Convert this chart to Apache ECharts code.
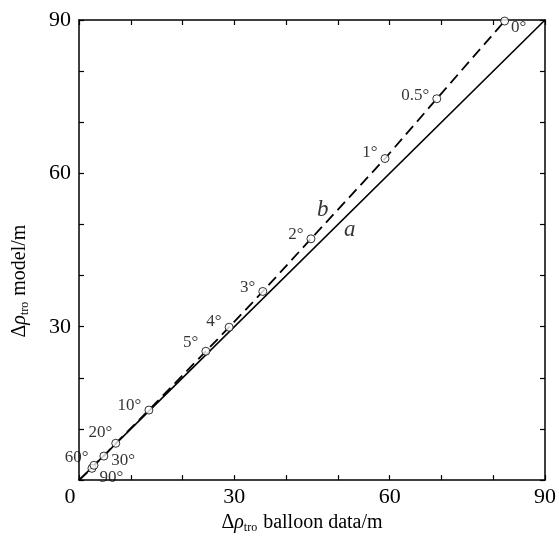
<!DOCTYPE html>
<html>
<head>
<meta charset="utf-8">
<script src="https://cdn.jsdelivr.net/npm/echarts@6/dist/echarts.min.js"></script>
<style>
html, body { margin: 0; padding: 0; background: #fff; }
#chart { width: 559px; height: 539px; }
</style>
</head>
<body>
<div id="chart"></div>
<script>
// elevation angles and the two delta-rho values (m)
var angles = ['90°', '60°', '30°', '20°', '10°', '5°', '4°', '3°', '2°', '1°', '0.5°', '0°'];
var balloon = [2.5, 2.9, 4.8, 7.1, 13.5, 24.5, 29.0, 35.5, 44.8, 59.1, 69.1, 82.2];
var model = [2.3, 2.9, 4.7, 7.2, 13.7, 25.2, 29.9, 36.9, 47.2, 62.9, 74.6, 89.8];
var lineA = [[0, 0], [90, 90]];
var curveNames = [['a', 52.3, 49.0], ['b', 47.1, 52.9]];
var ticks = [0, 30, 60, 90];

var chart = echarts.init(document.getElementById('chart'));
var serif = 'Liberation Serif';
var ink = '#000';

// where each angle label sits around its circle
var labelPos = {
	'90°': ['right', [0, 9]],
	'60°': ['left', [2, -8]],
	'30°': ['right', [0, 4]],
	'20°': ['left', [4, -11]],
	'10°': ['left', [0, -5]],
	'5°': ['left', [0, -9]],
	'4°': ['left', [0, -6]],
	'3°': ['left', [0, -4]],
	'2°': ['left', [0, -4]],
	'1°': ['left', [0, -6]],
	'0.5°': ['left', [0, -3]],
	'0°': ['right', [-1, 7]]
};

var pts = balloon.map(function(x, i) {
	var p = labelPos[angles[i]];
	return {
		value: [x, model[i]],
		label: { show: true, formatter: angles[i], position: p[0], offset: p[1] }
	};
});
var lineB = [[0, 0]].concat(balloon.map(function(x, i) { return [x, model[i]]; }));

function axisLine() {
	return { onZero: false, lineStyle: { color: ink, width: 1.5 } };
}
function axisTick() {
	return { show: true, inside: true, length: 5, lineStyle: { color: ink, width: 1.2 } };
}
var richName = {
	t: { fontFamily: serif, fontSize: 20, color: ink },
	r: { fontFamily: serif, fontSize: 20, fontStyle: 'italic', color: ink },
	s: { fontFamily: serif, fontSize: 12, color: ink, padding: [10, 1, 0, 0] }
};

function tickLabel(v, hideZero) {
	if (v === 0) return hideZero ? '' : '{z|0}';
	return ticks.indexOf(v) >= 0 ? String(v) : '';
}

var option = {
	backgroundColor: '#fff',
	animation: false,
	grid: { left: 79, right: 14, top: 20, bottom: 58 },
	xAxis: [{
		type: 'value', position: 'bottom', min: 0, max: 90, interval: 10,
		name: '{t|Δ}{r|ρ}{s|tro}{t| balloon data/m}',
		nameLocation: 'middle', nameGap: 26,
		nameTextStyle: { rich: richName, padding: [0, 20, 0, 0] },
		axisLine: axisLine(), axisTick: axisTick(), splitLine: { show: false },
		axisLabel: {
			margin: 6, fontFamily: serif, fontSize: 22, color: ink,
			formatter: function(v) { return tickLabel(v, false); },
			rich: { z: { fontFamily: serif, fontSize: 22, color: ink, padding: [0, 18, 0, 0] } }
		}
	}, {
		type: 'value', position: 'top', min: 0, max: 90, interval: 10,
		axisLine: axisLine(), axisTick: axisTick(), splitLine: { show: false },
		axisLabel: { show: false }
	}],
	yAxis: [{
		type: 'value', position: 'left', min: 0, max: 90, interval: 10,
		name: '{t|Δ}{r|ρ}{s|tro}{t| model/m}',
		nameLocation: 'middle', nameGap: 48,
		nameTextStyle: { rich: richName, padding: [0, 62, 0, 0] },
		axisLine: axisLine(), axisTick: axisTick(), splitLine: { show: false },
		axisLabel: {
			margin: 8, fontFamily: serif, fontSize: 22, color: ink,
			formatter: function(v) { return tickLabel(v, true); }
		}
	}, {
		type: 'value', position: 'right', min: 0, max: 90, interval: 10,
		axisLine: axisLine(), axisTick: axisTick(), splitLine: { show: false },
		axisLabel: { show: false }
	}],
	series: [{
		name: 'a', type: 'line', data: lineA, symbol: 'none',
		lineStyle: { color: ink, width: 1.6 }, z: 2
	}, {
		name: 'b', type: 'line', data: lineB, symbol: 'none',
		lineStyle: { color: ink, width: 1.8, type: [11, 6] }, z: 3
	}, {
		name: 'angles', type: 'scatter', data: pts, symbol: 'circle', symbolSize: 8,
		itemStyle: { color: '#fff', borderColor: ink, borderWidth: 1 },
		label: { fontFamily: serif, fontSize: 17, color: ink, distance: 3 },
		z: 5
	}, {
		name: 'names', type: 'scatter', symbolSize: 0,
		data: curveNames.map(function(c) { return { value: [c[1], c[2]], name: c[0] }; }),
		label: {
			show: true, position: 'inside', formatter: '{b}',
			fontFamily: serif, fontStyle: 'italic', fontSize: 23, color: ink
		},
		z: 6
	}]
};
chart.setOption(option);
</script>
</body>
</html>
